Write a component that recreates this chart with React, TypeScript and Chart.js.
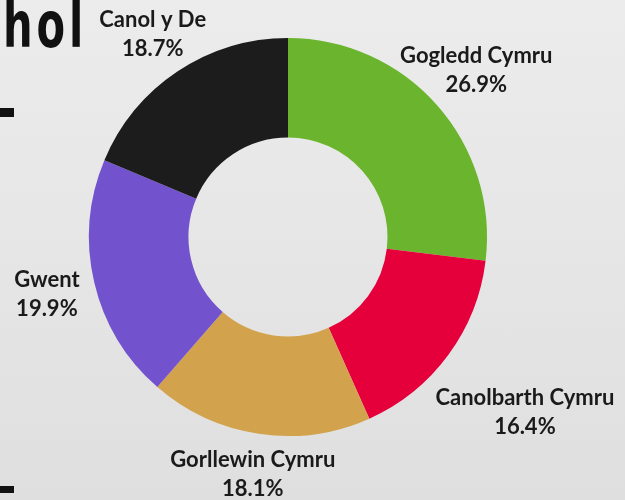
import React, { useEffect, useRef } from "react";
import { Chart, registerables } from "chart.js";

Chart.register(...registerables);

const regions = ["Gogledd Cymru", "Canolbarth Cymru", "Gorllewin Cymru", "Gwent", "Canol y De"];
const shares = [26.9, 16.4, 18.1, 19.9, 18.7];
const sliceColors = ["#6bb52e", "#e5003c", "#d2a24c", "#7352ce", "#1c1c1c"];
const labelExtraOffset = [0, 38, 0, 0, 0];
const titleFragment = "hol";

const backdrop = {
  id: "backdrop",
  beforeDraw(chart: any) {
    const ctx = chart.ctx;
    ctx.save();
    ctx.fillStyle = "#111";
    ctx.translate(3, 47);
    ctx.scale(0.65, 1);
    ctx.font = "bold 64px 'DejaVu Sans'";
    (ctx as any).letterSpacing = "6px";
    ctx.textBaseline = "alphabetic";
    ctx.textAlign = "left";
    ctx.fillText(titleFragment, 0, 0);
    ctx.restore();
    ctx.save();
    ctx.fillStyle = "#111";
    ctx.fillRect(0, 108, 14, 9);
    ctx.fillRect(0, 486, 14, 7);
    ctx.restore();
  },
};

const outsideLabels = {
  id: "outsideLabels",
  afterDatasetsDraw(chart: any, _args: any, opts: any) {
    const ctx = chart.ctx;
    const meta = chart.getDatasetMeta(0);
    const data = chart.data.datasets[0].data as number[];
    const labels = chart.data.labels as string[];
    const fontSize = opts.fontSize || 20;
    const lineH = opts.lineHeight || 30;
    ctx.save();
    ctx.font = `${opts.weight || "bold"} ${fontSize}px Lato`;
    ctx.fillStyle = opts.color || "#1a1a1a";
    ctx.textAlign = "center";
    ctx.textBaseline = "alphabetic";
    meta.data.forEach((arc: any, i: number) => {
      const p = arc.getProps(["x", "y", "startAngle", "endAngle", "outerRadius"], true);
      const mid = (p.startAngle + p.endAngle) / 2;
      const vx = Math.cos(mid);
      const vy = Math.sin(mid);
      const l1 = labels[i];
      const l2 = data[i].toFixed(1) + "%";
      const w = Math.max(ctx.measureText(l1).width, ctx.measureText(l2).width);
      const hw = w / 2;
      const hh = (lineH * 2 - 8) / 2;
      const d = p.outerRadius + (opts.gap || 16) + (opts.extra ? opts.extra[i] : 0);
      const s = d + Math.min(Math.abs(vx) > 1e-6 ? hw / Math.abs(vx) : 1e9, Math.abs(vy) > 1e-6 ? hh / Math.abs(vy) : 1e9);
      const cx = p.x + vx * s;
      const cy = p.y + vy * s;
      const capH = fontSize * 0.72;
      const base1 = cy - lineH / 2 + capH / 2;
      ctx.fillText(l1, cx, base1);
      ctx.fillText(l2, cx, base1 + lineH);
    });
    ctx.restore();
  },
};

export default function App() {
  const ref = useRef<HTMLCanvasElement | null>(null);
  useEffect(() => {
    if (!ref.current) return;
    const chart = new Chart(ref.current, {
      type: "doughnut",
      data: {
        labels: regions,
        datasets: [
          {
            data: shares,
            backgroundColor: sliceColors,
            borderWidth: 0,
          },
        ],
      },
      options: {
        animation: false,
        responsive: false,
        cutout: "50%",
        layout: { padding: { left: 89, right: 138, top: 38, bottom: 64 } },
        plugins: {
          legend: { display: false },
          tooltip: { enabled: false },
          outsideLabels: { fontSize: 22, weight: "bold", lineHeight: 29, gap: 15, extra: labelExtraOffset, color: "#1a1a1a" },
        } as any,
      },
      plugins: [backdrop, outsideLabels],
    });
    return () => chart.destroy();
  }, []);
  return (
    <div
      style={{
        position: "fixed",
        left: 0,
        top: 0,
        width: 625,
        height: 500,
        overflow: "hidden",
        background: "linear-gradient(180deg, #ececec 0%, #e6e6e6 50%, #dfdfdf 100%)",
      }}
    >
      <canvas ref={ref} width={625} height={500} style={{ position: "absolute", left: 0, top: 0 }} />
    </div>
  );
}
